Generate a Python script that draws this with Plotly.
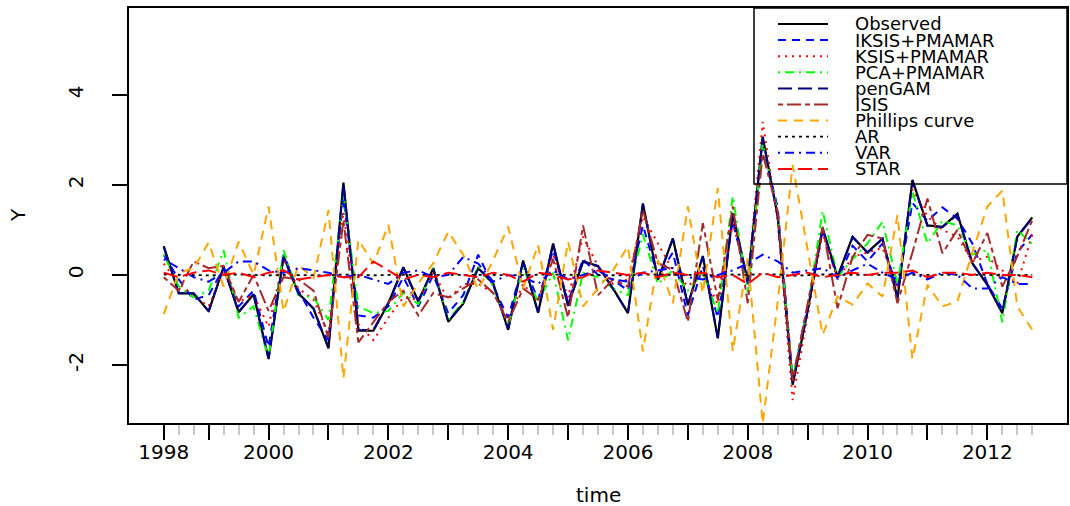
import plotly.graph_objects as go

# ---------------- data (quarterly, 1998Q2 .. 2012Q4) ----------------
start_year = 1998
start_quarter = 2
n_obs = 59

observed = [0.64, -0.41, -0.41, -0.81, 0.18, -0.83, -0.43, -1.87, 0.41, -0.41, -0.75,
            -1.63, 2.05, -1.24, -1.24, -0.63, 0.17, -0.59, 0.15, -1.04, -0.64,
            0.15, -0.19, -1.22, 0.32, -0.84, 0.70, -0.69, 0.30, 0.20, -0.30,
            -0.85, 1.59, -0.11, 0.81, -0.67, 0.42, -1.41, 1.37, -0.15, 3.07,
            1.30, -2.44, -0.80, 1.04, -0.04, 0.85, 0.50, 0.81, -0.52, 2.11,
            1.10, 1.07, 1.36, 0.26, -0.22, -0.85, 0.85, 1.28]

iksis_pmamar = [0.45, -0.10, -0.55, -0.45, 0.15, -0.70, -0.35, -1.60, 0.45, -0.35, -0.95,
                -1.45, 1.70, -0.90, -0.95, -0.70, -0.05, -0.70, 0.00, -0.85, -0.45,
                0.45, -0.25, -0.95, 0.25, -0.55, 0.55, -0.60, 0.35, 0.00, -0.10,
                -0.35, 1.10, -0.05, 0.50, -0.90, 0.20, -0.95, 1.20, -0.20, 2.85,
                1.50, -2.30, -0.70, 1.00, -0.10, 0.65, 0.30, 0.70, -0.30, 1.60,
                1.20, 1.50, 1.25, 0.70, -0.20, -0.75, 0.50, 0.90]

ksis_pmamar = [0.25, -0.20, -0.45, -0.70, 0.10, -0.60, -0.45, -1.15, 0.35, -0.30, -0.55,
               -1.30, 1.40, -1.10, -1.45, -0.95, -0.50, -0.55, 0.05, -0.55, -0.20,
               -0.20, -0.40, -1.00, -0.20, -0.60, 0.45, -0.50, 0.85, 0.20, -0.20,
               -0.10, 1.30, 0.70, 0.10, -0.25, 0.05, -0.65, 1.15, -0.10, 3.40,
               1.20, -2.78, -0.90, 0.93, -0.10, 0.40, 0.50, 0.60, -0.30, 1.90,
               1.30, 1.00, 0.85, 0.30, 0.40, 0.10, -0.20, 0.90]

pca_pmamar = [0.45, -0.25, -0.50, -0.35, 0.55, -0.95, -0.70, -1.85, 0.55, -0.45, -0.50,
              -1.00, 1.80, -0.70, -0.85, -0.80, -0.40, -0.65, 0.15, -1.00, -0.60,
              0.20, -0.25, -1.15, 0.15, -0.60, 0.05, -1.45, 0.05, -0.05, -0.30,
              -0.45, 0.90, -0.20, 0.10, -0.35, 0.05, -0.85, 1.75, -0.40, 2.95,
              1.40, -2.30, -0.75, 1.42, -0.05, 0.35, 0.70, 1.18, -0.20, 1.85,
              0.70, 1.20, 1.10, 0.45, 0.55, -1.05, 1.00, 0.68]

pengam = [0.62, -0.40, -0.42, -0.80, 0.17, -0.82, -0.44, -1.85, 0.40, -0.42, -0.74,
          -1.61, 2.03, -1.23, -1.22, -0.62, 0.16, -0.58, 0.14, -1.03, -0.63,
          0.16, -0.20, -1.20, 0.31, -0.83, 0.69, -0.68, 0.29, 0.19, -0.31,
          -0.84, 1.57, -0.10, 0.80, -0.66, 0.41, -1.39, 1.35, -0.14, 3.04,
          1.29, -2.41, -0.79, 1.03, -0.05, 0.84, 0.49, 0.80, -0.51, 2.08,
          1.09, 1.06, 1.34, 0.25, -0.21, -0.84, 0.84, 1.26]

isis = [-0.05, -0.35, 0.30, 0.15, 0.20, -0.60, 0.00, -0.80, -0.05, -0.10, -0.35,
        -1.40, 1.20, -1.50, -1.05, -0.60, -0.35, -0.90, -0.40, -0.50, -0.30,
        -0.10, -0.40, -1.05, -0.30, -0.55, 0.35, -0.95, 1.10, -0.45, -0.10,
        -0.26, 1.44, 0.26, 0.11, -1.04, 1.15, -0.56, 1.52, -0.63, 2.70,
        1.40, -2.35, -0.60, 1.07, -0.74, 0.40, 0.89, 0.81, -0.63, 0.50,
        1.70, 0.48, 1.00, 0.26, 0.93, -0.26, 0.41, 1.22]

phillips = [-0.87, 0.05, 0.15, 0.72, -0.26, 0.74, 0.00, 1.52, -0.81, 0.22, -0.07,
            1.44, -2.30, 0.78, 0.25, 1.11, -0.70, -0.19, 0.26, 0.96, 0.45,
            -0.33, 0.33, 1.07, -0.30, 0.67, -1.22, 0.74, -0.70, -0.30, 0.10,
            0.63, -1.70, 0.33, -0.63, 1.52, -0.41, 1.93, -1.70, 0.37, -3.30,
            -0.60, 2.44, 0.56, -1.33, -0.48, -0.66, -0.19, -0.48, 1.33, -1.87,
            -0.22, -0.70, -0.59, 0.50, 1.52, 1.87, -0.70, -1.22]

ar = [0.01, 0.00, 0.00, -0.01, 0.00, 0.01, 0.00, -0.01, 0.00, 0.00, 0.00,
      -0.01, 0.01, 0.00, -0.01, 0.00, 0.00, 0.00, 0.01, 0.00, 0.00,
      0.00, 0.00, -0.01, 0.00, 0.00, 0.01, 0.00, 0.00, 0.00, 0.00,
      -0.01, 0.01, 0.00, 0.00, 0.00, 0.00, -0.01, 0.01, 0.00, 0.02,
      0.01, -0.02, 0.00, 0.01, 0.00, 0.00, 0.00, 0.00, 0.00, 0.01,
      0.01, 0.00, 0.00, 0.00, 0.00, -0.01, 0.00, 0.00]

var = [0.35, 0.15, -0.05, -0.15, 0.05, 0.30, 0.30, 0.10, 0.05, 0.15, 0.10,
       0.05, -0.05, 0.00, -0.10, -0.20, 0.05, 0.10, -0.05, 0.00, 0.40,
       0.25, -0.15, 0.00, -0.05, -0.20, 0.10, -0.10, 0.00, 0.10, -0.10,
       -0.15, 0.05, 0.10, 0.15, -0.05, -0.10, 0.00, 0.10, 0.25, 0.45,
       0.30, 0.05, 0.10, 0.15, -0.05, 0.10, 0.25, 0.05, -0.10, 0.05,
       -0.10, 0.05, 0.00, -0.30, -0.30, -0.05, -0.20, -0.20]

star = [0.05, -0.05, 0.05, 0.10, 0.00, 0.05, -0.05, 0.05, 0.10, -0.10, -0.05,
        0.00, -0.05, -0.05, 0.30, 0.10, -0.10, 0.00, -0.05, 0.05, 0.00,
        -0.05, 0.05, 0.00, -0.15, 0.05, 0.00, -0.10, -0.05, 0.10, 0.05,
        0.00, 0.05, -0.05, 0.05, 0.00, 0.05, -0.05, 0.00, -0.20, 0.05,
        -0.05, 0.00, 0.05, -0.05, 0.00, 0.05, 0.00, 0.05, 0.05, 0.10,
        -0.05, 0.05, 0.05, 0.00, 0.05, 0.00, 0.00, -0.05]

series_names = ["Observed", "IKSIS+PMAMAR", "KSIS+PMAMAR", "PCA+PMAMAR", "penGAM",
                "ISIS", "Phillips curve", "AR", "VAR", "STAR"]

x_tick_vals = [1998.25, 1999, 2000, 2001, 2002, 2003, 2004, 2005, 2006,
               2007, 2008, 2009, 2010, 2011, 2012]
x_tick_text = ["1998", "", "2000", "", "2002", "", "2004", "", "2006",
               "", "2008", "", "2010", "", "2012"]
y_tick_vals = [-2, 0, 2, 4]
y_tick_text = ["-2", "0", "2", "4"]

# ---------------- styles ----------------
colors = ["black", "#0000FF", "#FF0000", "#00FF00", "#000080",
          "#A52A2A", "#FFA500", "black", "#0000FF", "#FF0000"]
dashes = ["solid", "8px,6px", "2px,5px", "2px,5px,9px,5px", "14px,6px",
          "5px,4px,14px,4px", "9px,7px", "3px,4px", "2px,5px,9px,5px", "14px,6px"]
widths = [2.2, 2, 2, 2, 2, 2, 2, 1.8, 2, 2]

all_series = [observed, iksis_pmamar, ksis_pmamar, pca_pmamar, pengam,
              isis, phillips, ar, var, star]

time = [start_year + (start_quarter - 1) / 4 + 0.25 * i for i in range(n_obs)]

fig = go.Figure()
for name, vals, c, d, w in zip(series_names, all_series, colors, dashes, widths):
    fig.add_trace(go.Scatter(x=time, y=vals, mode="lines", name=name,
                             line=dict(color=c, dash=d, width=w),
                             showlegend=False))

# ---------------- layout ----------------
W, H = 1070, 506
L, R, T, B = 129, 3, 8, 83
pw, ph = W - L - R, H - T - B

def px_x(p):
    return (p - L) / pw

def px_y(p):
    return (H - B - p) / ph

x_pad = 0.04 * (time[-1] - time[0])
minor_vals = [t for t in time if abs(t - round(t)) > 1e-9 and t not in x_tick_vals]

fig.update_layout(
    width=W, height=H,
    margin=dict(l=L, r=R, t=T, b=B, autoexpand=False),
    paper_bgcolor="white", plot_bgcolor="white",
    font=dict(family="DejaVu Sans", size=20, color="black"),
    showlegend=False,
)
fig.update_xaxes(
    range=[time[0] - x_pad, time[-1] + x_pad], automargin=False,
    tickmode="array", tickvals=x_tick_vals, ticktext=x_tick_text,
    ticks="outside", ticklen=15, tickwidth=1.5, tickcolor="black",
    showline=True, linecolor="black", linewidth=2, mirror=True,
    showgrid=False, zeroline=False, ticklabelstandoff=-5,
    minor=dict(tickmode="array", tickvals=minor_vals, ticks="outside",
               ticklen=10, tickwidth=1.5, tickcolor="#c8c8c8", showgrid=False),
)
fig.update_yaxes(
    range=[-3.29, 5.93], automargin=False,
    tickmode="array", tickvals=y_tick_vals, ticktext=y_tick_text,
    tickangle=-90, ticks="outside", ticklen=15, tickwidth=1.5, tickcolor="black",
    showline=True, linecolor="black", linewidth=2, mirror=True,
    showgrid=False, zeroline=False, ticklabelstandoff=21,
)

# axis titles
fig.add_annotation(text="time", xref="paper", yref="paper", x=0.5, y=px_y(495),
                   showarrow=False, xanchor="center", yanchor="middle",
                   font=dict(size=20))
fig.add_annotation(text="Y", xref="paper", yref="paper", x=px_x(18), y=px_y(215),
                   showarrow=False, xanchor="center", yanchor="middle",
                   textangle=-90, font=dict(size=20))

# legend (R style box, top right)
fig.add_shape(type="rect", xref="paper", yref="paper",
              x0=px_x(754), x1=1.0, y0=px_y(184), y1=1.0,
              line=dict(color="black", width=1.5), fillcolor="rgba(0,0,0,0)")
row0, row_step = 24, 16.1
for k, (name, c, d, w) in enumerate(zip(series_names, colors, dashes, widths)):
    yy = px_y(row0 + row_step * k)
    fig.add_shape(type="line", xref="paper", yref="paper",
                  x0=px_x(778), x1=px_x(828), y0=yy, y1=yy,
                  line=dict(color=c, dash=d, width=w))
    fig.add_annotation(text=name, xref="paper", yref="paper", x=px_x(853), y=yy,
                       showarrow=False, xanchor="left", yanchor="middle",
                       font=dict(size=18))

fig.write_html("out.html", config={"displayModeBar": False},
               post_script="document.body.style.margin='0';")
